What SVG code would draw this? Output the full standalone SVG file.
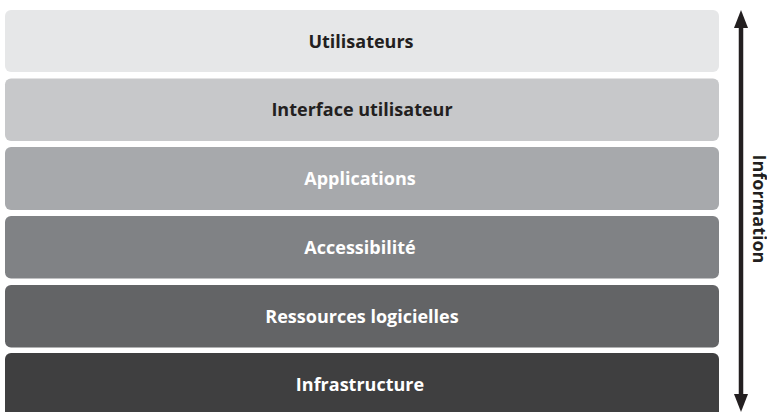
<svg xmlns="http://www.w3.org/2000/svg" width="767" height="412" viewBox="0 0 767 412">
<defs>
<style>
.box{stroke:none}
.t{font-family:"Open Sans","Liberation Sans",sans-serif;font-weight:bold;font-size:18px;text-anchor:middle}
.dark{fill:#231f20}
.light{fill:#ffffff}
</style>
</defs>
<rect width="767" height="412" fill="#ffffff"/>
<g id="utilisateurs"><rect class="box" x="5" y="10" width="714" height="62" rx="6" fill="#e6e7e8"/><text class="t dark" x="361" y="47.5">Utilisateurs</text></g>
<g id="interface"><rect class="box" x="5" y="78.5" width="714" height="62.5" rx="6" fill="#c7c8ca"/><text class="t dark" x="362" y="116">Interface utilisateur</text></g>
<g id="applications"><rect class="box" x="5" y="147" width="714" height="63" rx="6" fill="#a7a9ac"/><text class="t light" x="360" y="184.5">Applications</text></g>
<g id="accessibilite"><rect class="box" x="5" y="216" width="714" height="62.5" rx="6" fill="#808285"/><text class="t light" x="360" y="253.5">Accessibilité</text></g>
<g id="ressources"><rect class="box" x="5" y="285" width="714" height="62.5" rx="6" fill="#636466"/><text class="t light" x="362" y="322.5">Ressources logicielles</text></g>
<g id="infrastructure"><rect class="box" x="5" y="353" width="714" height="66" rx="6" fill="#3f3f40"/><text class="t light" x="360" y="390.5">Infrastructure</text></g>
<g id="connectors">
<line x1="741" y1="24" x2="741" y2="398" stroke="#231f20" stroke-width="4.5"/>
<polygon points="741,10 748,28 734,28" fill="#231f20"/>
<polygon points="741,412 748,394 734,394" fill="#231f20"/>
</g>
<g id="information"><text class="t dark" transform="translate(753,209) rotate(90)" x="0" y="0">Information</text></g>
</svg>
